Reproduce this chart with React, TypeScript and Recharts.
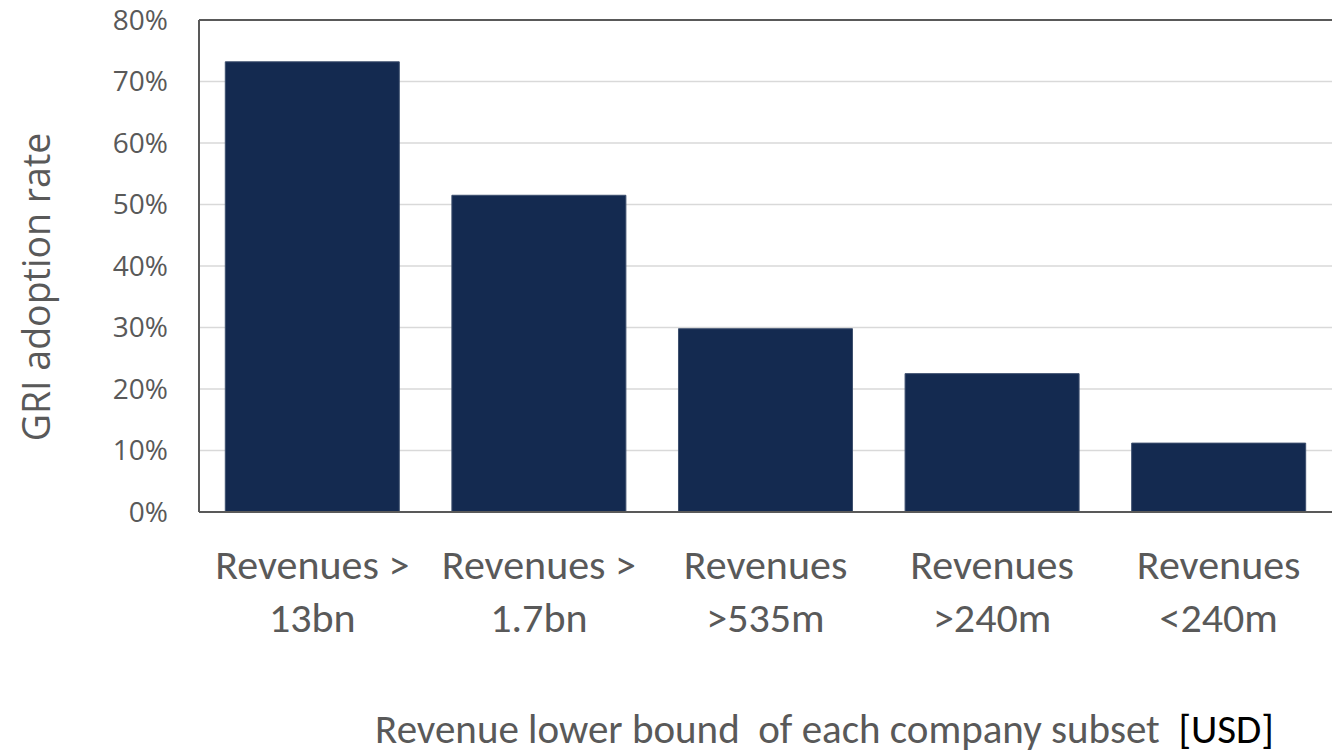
import React from "react";
import { BarChart, Bar, XAxis, YAxis, CartesianGrid, ReferenceLine } from "recharts";

const categories = [
  "Revenues >\n13bn",
  "Revenues >\n1.7bn",
  "Revenues\n>535m",
  "Revenues\n>240m",
  "Revenues\n<240m",
];
const adoptionRate = [0.732, 0.515, 0.298, 0.225, 0.112];
const yTicks = [0, 0.1, 0.2, 0.3, 0.4, 0.5, 0.6, 0.7, 0.8];
const xTitleMain = "Revenue lower bound  of each company subset  ";
const xTitleUnit = "[USD]";
const yTitle = "GRI adoption rate";

const data = categories.map((c, i) => ({ name: c, value: adoptionRate[i] }));

const GRAY = "#595959";
const CAL_FONT = "Carlito, Lato, 'Open Sans', sans-serif";
const SANS_FONT = "'Open Sans', 'Noto Sans', sans-serif";

const CategoryTick = (props: any) => {
  const { x, y, payload } = props;
  const lines = String(payload.value).split("\n");
  return (
    <text
      x={x}
      y={y}
      textAnchor="middle"
      fill={GRAY}
      fontFamily={CAL_FONT}
      fontSize={42}
    >
      {lines.map((l: string, i: number) => (
        <tspan key={i} x={x} dy={i === 0 ? 59 : 53}>
          {l}
        </tspan>
      ))}
    </text>
  );
};

const XTitle = (props: any) => {
  const { viewBox } = props;
  const cx = viewBox.x + viewBox.width / 2 + 59;
  return (
    <text
      x={cx}
      y={743}
      textAnchor="middle"
      fontFamily={CAL_FONT}
      fontSize={41}
      style={{ whiteSpace: "pre" }}
    >
      <tspan fill={GRAY}>{xTitleMain}</tspan>
      <tspan fill="#000000">{xTitleUnit}</tspan>
    </text>
  );
};

const YTitle = (props: any) => {
  const { viewBox } = props;
  const cx = 50;
  const cy = viewBox.y + viewBox.height / 2 + 21;
  return (
    <text
      x={cx}
      y={cy}
      textAnchor="middle"
      fill={GRAY}
      fontFamily={SANS_FONT}
      fontSize={37.5}
      transform={`rotate(-90, ${cx}, ${cy})`}
    >
      {yTitle}
    </text>
  );
};

export default function App() {
  return (
    <div
      style={{
        position: "absolute",
        left: 0,
        top: 0,
        width: 1343,
        height: 756,
        background: "#ffffff",
      }}
    >
      <BarChart
        width={1343}
        height={756}
        data={data}
        margin={{ top: 20, right: 11, bottom: 0, left: 0 }}
        barCategoryGap="11.6%"
      >
        <CartesianGrid
          vertical={false}
          stroke="#d9d9d9"
          strokeWidth={1.5}
          yAxisId="left"
          xAxisId="bottom"
        />
        <XAxis
          dataKey="name"
          xAxisId="bottom"
          height={244}
          tickLine={false}
          axisLine={{ stroke: GRAY, strokeWidth: 2 }}
          tick={<CategoryTick />}
          interval={0}
          label={<XTitle />}
        />
        <YAxis
          yAxisId="left"
          width={199}
          domain={[0, 0.8]}
          ticks={yTicks}
          tickLine={false}
          tickSize={0}
          tickMargin={31}
          axisLine={{ stroke: GRAY, strokeWidth: 2 }}
          tickFormatter={(v: number) => `${Math.round(v * 100)}%`}
          tick={{ fill: GRAY, fontSize: 28, fontFamily: SANS_FONT }}
          label={<YTitle />}
        />
        <YAxis
          yAxisId="right"
          orientation="right"
          width={0}
          domain={[0, 0.8]}
          tick={false}
          tickLine={false}
          axisLine={{ stroke: GRAY, strokeWidth: 2 }}
        />
        <Bar
          dataKey="value"
          xAxisId="bottom"
          yAxisId="left"
          fill="#142a50"
          stroke="#3d4f6e"
          strokeWidth={1}
          isAnimationActive={false}
        />
        <ReferenceLine
          y={0.8}
          yAxisId="left"
          xAxisId="bottom"
          stroke={GRAY}
          strokeWidth={2}
        />
      </BarChart>
    </div>
  );
}
